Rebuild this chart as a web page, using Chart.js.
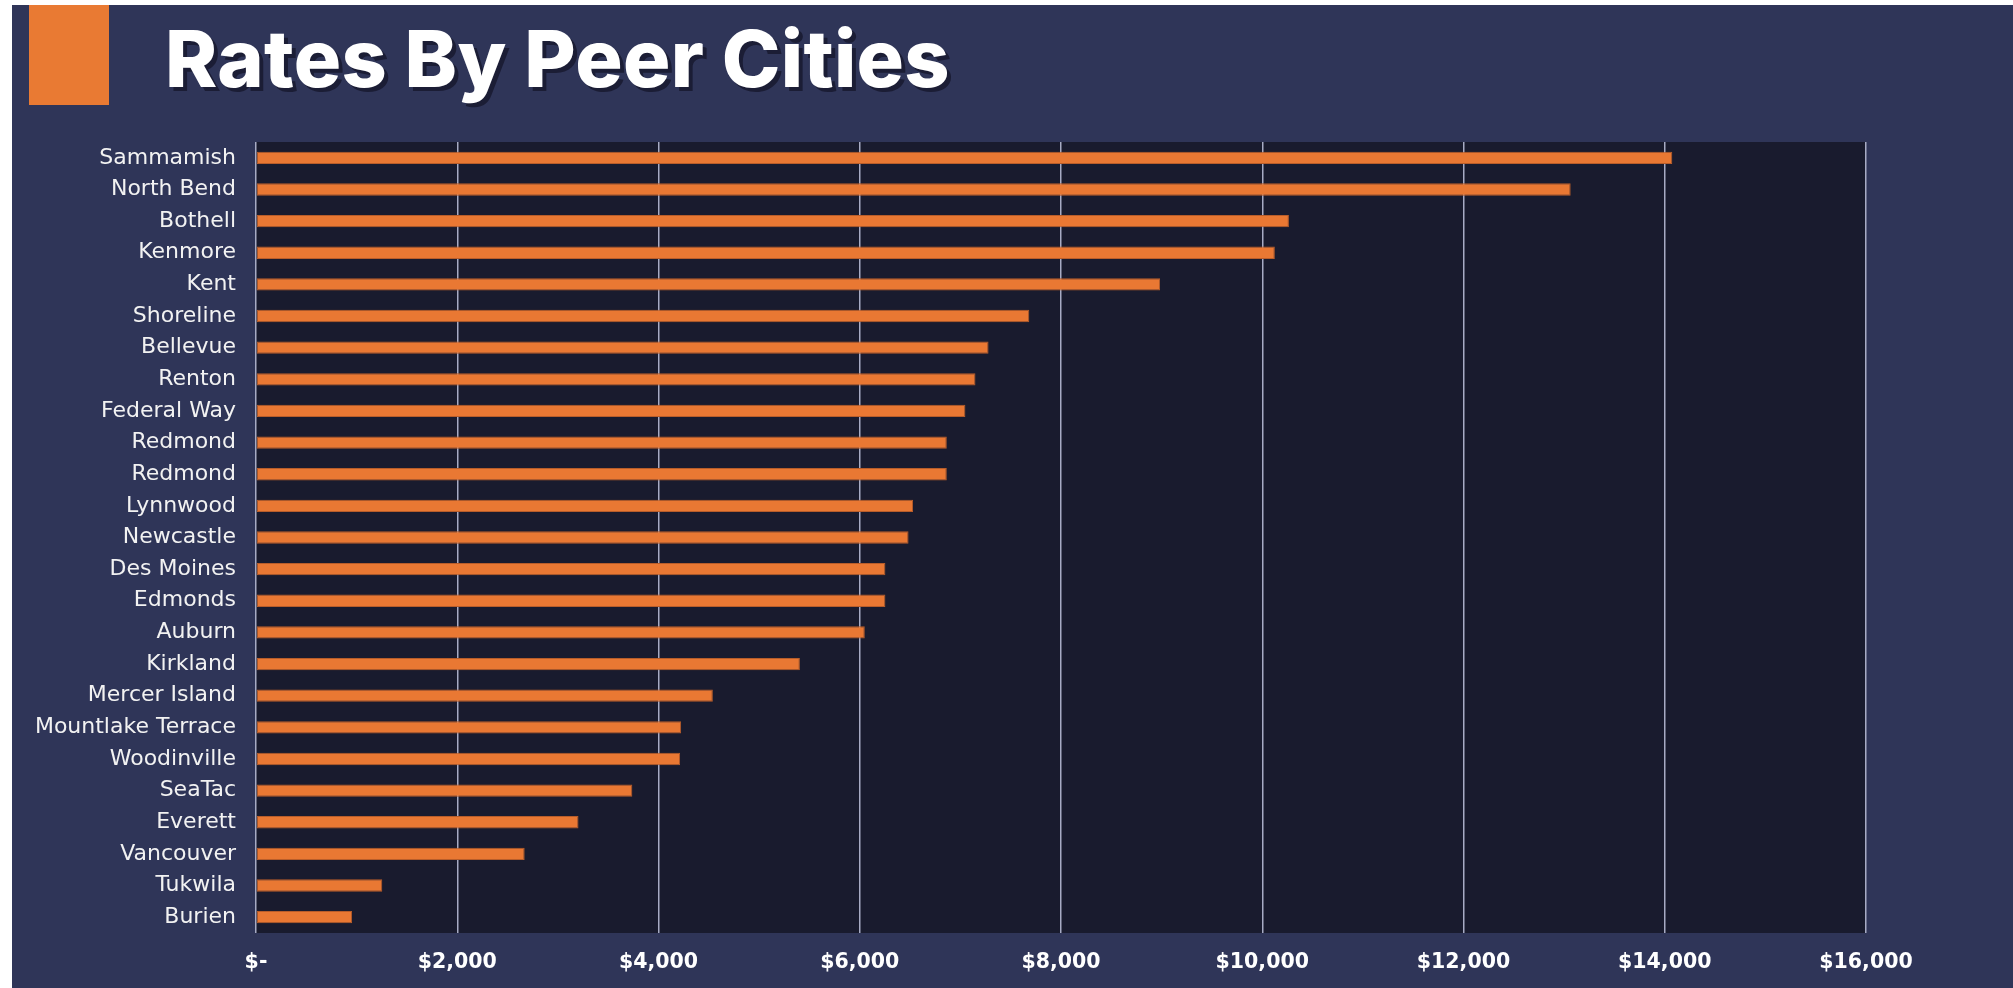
<!DOCTYPE html>
<html>
<head>
<meta charset="utf-8">
<script src="https://cdn.jsdelivr.net/npm/chart.js@4"></script>
<style>
  html, body { margin: 0; padding: 0; background: #ffffff; overflow: hidden; }
  #fondo { position: absolute; left: 12px; top: 5px; width: 2001px; height: 983px; background: #2f3558; }
  #cuadro { position: absolute; left: 29px; top: 5px; width: 80px; height: 100px; background: #e97a33; }
  #titulo {
    position: absolute; left: 165px; top: 10px; margin: 0;
    font-family: Inter, sans-serif; font-weight: 800; font-size: 79px; letter-spacing: 0.3px;
    color: #ffffff; text-shadow: 4px 4px 0 #1b1d35;
  }
  #grafica { position: absolute; left: 0; top: 0; }
</style>
</head>
<body>
<div id="fondo"></div>
<div id="cuadro"></div>
<h1 id="titulo">Rates By Peer Cities</h1>
<canvas id="grafica" width="2013" height="988"></canvas>
<script>
const ciudades = ['Sammamish', 'North Bend', 'Bothell', 'Kenmore', 'Kent', 'Shoreline', 'Bellevue',
    'Renton', 'Federal Way', 'Redmond', 'Redmond', 'Lynnwood', 'Newcastle', 'Des Moines', 'Edmonds',
    'Auburn', 'Kirkland', 'Mercer Island', 'Mountlake Terrace', 'Woodinville', 'SeaTac', 'Everett',
    'Vancouver', 'Tukwila', 'Burien'];
const tarifas = [14075, 13065, 10265, 10125, 8985, 7685, 7280, 7150, 7050, 6865, 6865, 6530, 6485,
    6255, 6255, 6050, 5405, 4540, 4225, 4215, 3740, 3205, 2670, 1255, 955];
const etiquetasX = ['$-', '$2,000', '$4,000', '$6,000', '$8,000', '$10,000', '$12,000', '$14,000', '$16,000'];

// fondo oscuro del area de la grafica
const fondoArea = {
    id: 'fondoArea',
    beforeDraw: (chart) => {
        const { ctx, chartArea } = chart;
        ctx.save();
        ctx.fillStyle = '#191b2e';
        ctx.fillRect(chartArea.left, chartArea.top, chartArea.right - chartArea.left, chartArea.bottom - chartArea.top);
        ctx.restore();
    }
};

const ctx = document.getElementById('grafica').getContext('2d');
new Chart(ctx, {
    type: 'bar',
    data: {
        labels: ciudades,
        datasets: [{
            label: 'Rate',
            data: tarifas,
            backgroundColor: '#e97833',
            borderColor: '#b85d2a',
            borderWidth: 1,
            borderSkipped: false,
            categoryPercentage: 1,
            barPercentage: 0.39
        }]
    },
    options: {
        indexAxis: 'y',
        responsive: false,
        animation: false,
        layout: {
            padding: { top: 142, right: 147, bottom: 0, left: 0 }
        },
        plugins: {
            legend: { display: false },
            tooltip: { enabled: false }
        },
        scales: {
            x: {
                min: 0,
                max: 16000,
                ticks: {
                    stepSize: 2000,
                    color: '#ffffff',
                    padding: 17,
                    font: { family: 'DejaVu Sans', weight: 'bold', size: 20.5 },
                    callback: (valor, i) => etiquetasX[i]
                },
                grid: { color: '#a7abc4', lineWidth: 1.5, drawTicks: false },
                border: { display: false },
                afterFit: (escala) => { escala.height = 55; }
            },
            y: {
                ticks: {
                    color: '#f2f2f2',
                    padding: 20,
                    autoSkip: false,
                    font: { family: 'DejaVu Sans', size: 22 }
                },
                grid: { display: false, drawTicks: false },
                border: { display: false },
                afterFit: (escala) => { escala.width = 256; }
            }
        }
    },
    plugins: [fondoArea]
});
</script>
</body>
</html>
